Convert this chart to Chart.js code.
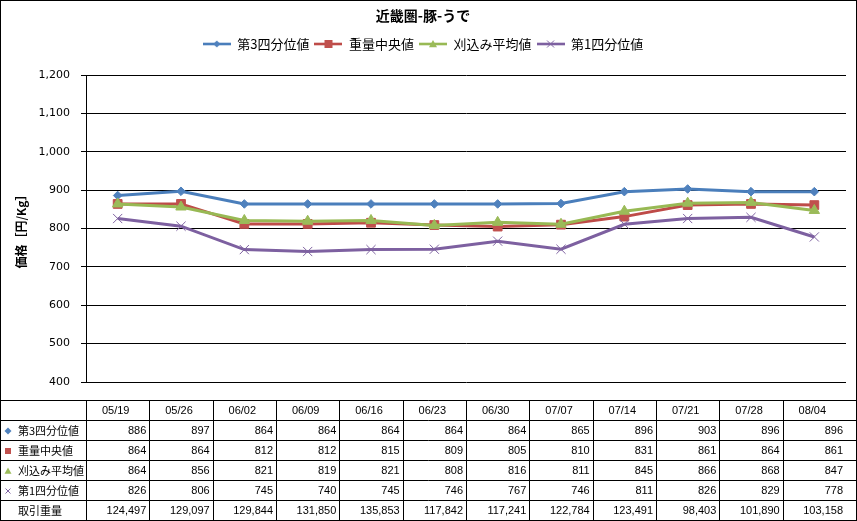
<!DOCTYPE html>
<html>
<head>
<meta charset="utf-8">
<script src="https://cdn.jsdelivr.net/npm/chart.js@4.4.1/dist/chart.umd.min.js"></script>
<style>
  html, body { margin: 0; padding: 0; background: #fff; }
  canvas { display: block; }
</style>
</head>
<body>
<canvas id="chart" width="857" height="521"></canvas>
<script>
// 近畿圏 豚 うで — 週次価格
const weeks = ['05/19', '05/26', '06/02', '06/09', '06/16', '06/23', '06/30', '07/07', '07/14', '07/21', '07/28', '08/04'];
const q3 = [886, 897, 864, 864, 864, 864, 864, 865, 896, 903, 896, 896];
const median = [864, 864, 812, 812, 815, 809, 805, 810, 831, 861, 864, 861];
const trimmedMean = [864, 856, 821, 819, 821, 808, 816, 811, 845, 866, 868, 847];
const q1 = [826, 806, 745, 740, 745, 746, 767, 746, 811, 826, 829, 778];
const volume = [124497, 129097, 129844, 131850, 135853, 117842, 117241, 122784, 123491, 98403, 101890, 103158];

const seriesNames = ['第3四分位値', '重量中央値', '刈込み平均値', '第1四分位値'];
const volumeName = '取引重量';
const yMin = 400, yMax = 1200, yStep = 100;

const lineColors = ['#4A7EBB', '#BE4B48', '#98B954', '#7D60A0'];
const markerColors = ['#4F81BD', '#C0504D', '#9BBB59', '#8064A2'];
const markerStyles = ['rectRot', 'rect', 'triangle', 'crossRot'];
const markerRadius = [4.3, 6.2, 6, 6.5];

const fmt = v => v.toLocaleString('en-US');
const JP = '"Noto Sans CJK JP", "DejaVu Sans", sans-serif';

// small marker drawer for legend swatches and table row headers
function drawMarker(g, kind, x, y, r, color) {
  g.save();
  g.fillStyle = color;
  g.strokeStyle = color;
  g.lineWidth = 1;
  g.beginPath();
  if (kind === 'rectRot') {
    g.moveTo(x, y - r); g.lineTo(x + r, y); g.lineTo(x, y + r); g.lineTo(x - r, y);
    g.closePath(); g.fill();
  } else if (kind === 'rect') {
    g.rect(x - r, y - r, 2 * r, 2 * r); g.fill();
  } else if (kind === 'triangle') {
    g.moveTo(x, y - r); g.lineTo(x + r, y + r * 0.8); g.lineTo(x - r, y + r * 0.8);
    g.closePath(); g.fill();
  } else {
    g.moveTo(x - r, y - r); g.lineTo(x + r, y + r);
    g.moveTo(x + r, y - r); g.lineTo(x - r, y + r);
    g.stroke();
  }
  g.restore();
}

function legendSwatch(i) {
  const c = document.createElement('canvas');
  c.width = 28; c.height = 12;
  const g = c.getContext('2d');
  g.strokeStyle = lineColors[i];
  g.lineWidth = 2.6;
  g.beginPath(); g.moveTo(0, 6); g.lineTo(28, 6); g.stroke();
  const r = [3.5, 4, 4, 3.5][i];
  drawMarker(g, markerStyles[i], 14, 6, r, markerColors[i]);
  return c;
}
const swatches = [0, 1, 2, 3].map(legendSwatch);

const seriesValues = [q3, median, trimmedMean, q1];

const datasets = seriesValues.map((vals, i) => ({
  label: seriesNames[i],
  data: vals,
  borderColor: lineColors[i],
  backgroundColor: markerColors[i],
  pointBackgroundColor: markerColors[i],
  pointBorderColor: markerColors[i],
  pointStyle: markerStyles[i],
  pointRadius: markerRadius[i],
  pointBorderWidth: 1,
  borderWidth: 3,
  tension: 0,
  order: 4 - i // later series on top, like Excel
}));

// data table under the plot, columns follow the x scale
const dataTable = {
  id: 'dataTable',
  beforeDraw(chart) {
    const ctx = chart.ctx;
    ctx.save();
    ctx.fillStyle = '#fff';
    ctx.fillRect(0, 0, chart.width, chart.height);
    ctx.restore();
  },
  afterDraw(chart) {
    const { ctx, chartArea } = chart;
    const x = chart.scales.x;
    const half = (chartArea.right - chartArea.left) / weeks.length / 2;
    const top = Math.round(chartArea.bottom) + 18;
    const rowH = 20;
    const right = chart.width - 1;
    const rows = seriesValues.length + 2;
    const bottom = top + rowH * rows;

    ctx.save();
    ctx.strokeStyle = '#000';
    ctx.lineWidth = 1;
    ctx.beginPath();
    for (let r = 0; r <= rows; r++) {
      const y = Math.min(top + r * rowH, chart.height - 1) + 0.5;
      ctx.moveTo(0, y); ctx.lineTo(right + 0.5, y);
    }
    const leftEdge = Math.round(chartArea.left) + 0.5;
    ctx.moveTo(leftEdge, top); ctx.lineTo(leftEdge, bottom);
    for (let i = 0; i < weeks.length - 1; i++) {
      const xe = Math.round(x.getPixelForValue(i) + half) + 0.5;
      ctx.moveTo(xe, top); ctx.lineTo(xe, bottom);
    }
    ctx.stroke();
    // outer frame
    ctx.strokeRect(0.5, 0.5, right, chart.height - 1);

    ctx.fillStyle = '#000';
    ctx.textBaseline = 'middle';
    ctx.font = '11px "Liberation Sans", ' + JP;
    ctx.textAlign = 'center';
    weeks.forEach((w, i) => ctx.fillText(w, x.getPixelForValue(i) - 2, top + rowH / 2 + 1));

    const allRows = seriesValues.concat([volume]);
    allRows.forEach((vals, r) => {
      const cy = top + rowH * (r + 1) + rowH / 2 + 1;
      if (r < seriesValues.length) {
        const mr = [3.5, 3, 3.5, 2.5][r];
        drawMarker(ctx, markerStyles[r], 8, cy, mr, markerColors[r]);
      }
      ctx.textAlign = 'left';
      ctx.font = '11px ' + JP;
      ctx.fillText(r < seriesValues.length ? seriesNames[r] : volumeName, 18, cy);
      ctx.textAlign = 'right';
      ctx.font = '11px "Liberation Sans", ' + JP;
      vals.forEach((v, i) => ctx.fillText(fmt(v), x.getPixelForValue(i) + half - 3, cy));
    });
    ctx.restore();
  }
};

new Chart(document.getElementById('chart'), {
  type: 'line',
  data: { labels: weeks, datasets },
  plugins: [dataTable],
  options: {
    responsive: false,
    animation: false,
    events: [],
    layout: { padding: { left: 0, right: 11, top: 0, bottom: 139 } },
    plugins: {
      title: {
        display: true,
        text: '近畿圏-豚-うで',
        color: '#000',
        font: { family: JP, size: 14, weight: 'bold' },
        padding: { top: 7.6, bottom: 8.1 }
      },
      legend: {
        display: true,
        weight: 1750,
        labels: {
          usePointStyle: true,
          pointStyleWidth: 28,
          padding: 5,
          color: '#000',
          font: { family: JP, size: 13 },
          generateLabels: chart => chart.data.datasets.map((ds, i) => ({
            text: ds.label,
            pointStyle: swatches[i],
            fillStyle: ds.borderColor,
            strokeStyle: ds.borderColor,
            lineWidth: 0,
            hidden: false,
            datasetIndex: i,
            fontColor: '#000'
          }))
        }
      },
      // empty spacer between legend and plot
      subtitle: {
        display: true,
        text: ' ',
        font: { size: 10 },
        padding: { top: 1.25, bottom: 1.25 }
      },
      tooltip: { enabled: false }
    },
    scales: {
      x: {
        type: 'category',
        display: false,
        offset: true
      },
      y: {
        min: yMin,
        max: yMax,
        afterFit: scale => { scale.width = 86; },
        ticks: {
          stepSize: yStep,
          padding: 11,
          color: '#000',
          font: { family: '"DejaVu Sans", sans-serif', size: 11 },
          callback: v => fmt(v)
        },
        grid: {
          color: '#000',
          lineWidth: 1,
          tickLength: 5,
          drawTicks: true
        },
        border: { display: true, color: '#000', width: 1 },
        title: {
          display: true,
          text: '価格［円/Kg］',
          color: '#000',
          font: { family: JP, size: 12, weight: 'bold' },
          padding: { top: 14, bottom: 0 }
        }
      }
    }
  }
});
</script>
</body>
</html>
